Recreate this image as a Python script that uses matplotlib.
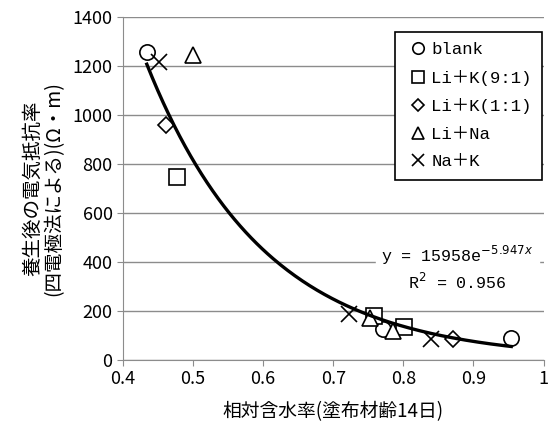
import numpy as np
import matplotlib
matplotlib.use("Agg")
import matplotlib.pyplot as plt

plt.rcParams['font.family'] = ['Noto Sans CJK JP', 'DejaVu Sans']

# relative moisture content vs. resistivity, per coating type
blank_x = [0.434, 0.771, 0.954]
blank_y = [1258, 125, 90]
lik91_x = [0.477, 0.758, 0.801]
lik91_y = [748, 180, 133]
lik11_x = [0.461, 0.871]
lik11_y = [959, 84]
lina_x = [0.500, 0.753, 0.785]
lina_y = [1245, 170, 118]
nak_x = [0.452, 0.722, 0.839]
nak_y = [1218, 188, 86]

# exponential fit reported on the chart
fit_a = 15958
fit_b = -5.947
fit_r2 = 0.956

series = [
    (blank_x, blank_y, 'o', 'blank'),
    (lik91_x, lik91_y, 's', 'Li＋K(9:1)'),
    (lik11_x, lik11_y, 'D', 'Li＋K(1:1)'),
    (lina_x, lina_y, '^', 'Li＋Na'),
    (nak_x, nak_y, 'x', 'Na＋K'),
]

mono = ['Liberation Mono', 'Noto Sans CJK JP']

fig = plt.figure(figsize=(5.49, 4.30), dpi=100)
ax = fig.add_axes([0.224, 0.163, 0.766, 0.797])

for xs, ys, m, lab in series:
    ms = 11
    if m == 'D':
        ms = 8
    if m == 'x':
        ax.plot(xs, ys, linestyle='none', marker=m, ms=ms, mec='black',
                mew=1.2, label=lab, zorder=3)
    else:
        ax.plot(xs, ys, linestyle='none', marker=m, ms=ms, mfc='white',
                mec='black', mew=1.2, label=lab, zorder=3)

all_x = blank_x + lik91_x + lik11_x + lina_x + nak_x
xx = np.linspace(min(all_x), max(all_x), 200)
ax.plot(xx, fit_a * np.exp(fit_b * xx), color='black', lw=2.4, zorder=4)

ax.set_xlim(0.4, 1.0)
ax.set_ylim(0, 1400)
ax.set_xticks(np.arange(0.4, 1.01, 0.1))
ax.set_xticklabels(['0.4', '0.5', '0.6', '0.7', '0.8', '0.9', '1'])
ax.set_yticks(range(0, 1401, 200))
ax.yaxis.grid(True, color='#8c8c8c', lw=1)
ax.set_axisbelow(True)
for s in ['top', 'right']:
    ax.spines[s].set_visible(False)
for s in ['left', 'bottom']:
    ax.spines[s].set_color('#8c8c8c')
ax.tick_params(direction='out', color='#8c8c8c', length=4, labelsize=13,
               labelcolor='black')

ax.set_xlabel('相対含水率(塗布材齢14日)', fontsize=13.5, labelpad=9)
ax.set_ylabel('養生後の電気抵抗率\n(四電極法による)(Ω・m)', fontsize=14,
              linespacing=1.0, labelpad=6)

ax.text(0.795, 0.268,
        'y = %de$^{%.3fx}$\nR$^2$ = %.3f' % (fit_a, fit_b, fit_r2),
        transform=ax.transAxes, ha='center', va='center', fontsize=12,
        family=mono, linespacing=1.25, backgroundcolor='white', zorder=5)

leg = ax.legend(loc='upper right', bbox_to_anchor=(0.997, 0.958),
                fancybox=False, edgecolor='black', framealpha=1,
                prop={'family': mono, 'size': 12.5}, handlelength=1.4,
                handletextpad=0.1, markerscale=0.75, borderpad=0.6,
                labelspacing=0.72, borderaxespad=0)
leg.get_frame().set_linewidth(1.2)

fig.savefig('out.png', dpi=100)
